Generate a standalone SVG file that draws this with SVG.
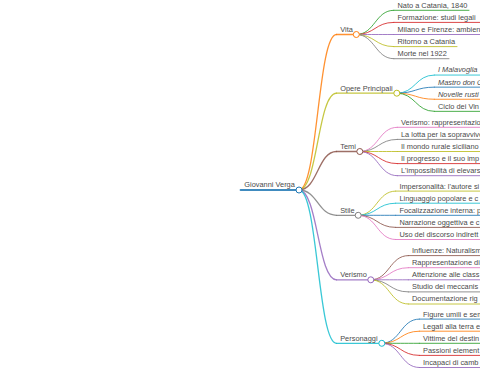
<svg xmlns="http://www.w3.org/2000/svg" width="480" height="379" viewBox="0 0 480 379">
<style>
text{font-family:"Liberation Sans",Arial,sans-serif;font-size:7.4px;fill:#4a4a4a}
.it{font-style:italic}
path,line{fill:none;stroke-linecap:round;stroke-opacity:.85}
.d0{stroke-width:2}
.d1{stroke-width:1.3}
.d2{stroke-width:1}
circle{fill:#fff;stroke-width:1}
.blue{stroke:#1f77b4}.orange{stroke:#ff7f0e}.green{stroke:#2ca02c}.red{stroke:#d62728}.purple{stroke:#9467bd}
.brown{stroke:#8c564b}.pink{stroke:#e377c2}.gray{stroke:#7f7f7f}.olive{stroke:#bcbd22}.cyan{stroke:#17becf}
</style>
<rect width="480" height="379" fill="#fff"/>
<g id="connectors">
<path class="d1 orange" d="M299,190C317.75,190 317.75,34.5 336.5,34.5"/>
<path class="d1 olive" d="M299,190C317.75,190 317.75,93.2 336.5,93.2"/>
<path class="d1 brown" d="M299,190C317.75,190 317.75,151.5 336.5,151.5"/>
<path class="d1 gray" d="M299,190C317.75,190 317.75,215.3 336.5,215.3"/>
<path class="d1 purple" d="M299,190C317.75,190 317.75,279.8 336.5,279.8"/>
<path class="d1 cyan" d="M299,190C317.75,190 317.75,343.3 336.5,343.3"/>
<path class="d2 green" d="M356.3,34.5C375.05,34.5 375.05,10.3 393.8,10.3"/>
<path class="d2 red" d="M356.3,34.5C375.05,34.5 375.05,22.4 393.8,22.4"/>
<path class="d2 purple" d="M356.3,34.5C375.05,34.5 375.05,34.5 393.8,34.5"/>
<path class="d2 olive" d="M356.3,34.5C375.05,34.5 375.05,46.6 393.8,46.6"/>
<path class="d2 gray" d="M356.3,34.5C375.05,34.5 375.05,58.7 393.8,58.7"/>
<path class="d2 cyan" d="M396.8,93.2C415.55,93.2 415.55,75.05 434.3,75.05"/>
<path class="d2 blue" d="M396.8,93.2C415.55,93.2 415.55,87.15 434.3,87.15"/>
<path class="d2 orange" d="M396.8,93.2C415.55,93.2 415.55,99.25 434.3,99.25"/>
<path class="d2 green" d="M396.8,93.2C415.55,93.2 415.55,111.35 434.3,111.35"/>
<path class="d2 pink" d="M359.8,151.5C378.55,151.5 378.55,127.3 397.3,127.3"/>
<path class="d2 gray" d="M359.8,151.5C378.55,151.5 378.55,139.4 397.3,139.4"/>
<path class="d2 olive" d="M359.8,151.5C378.55,151.5 378.55,151.5 397.3,151.5"/>
<path class="d2 red" d="M359.8,151.5C378.55,151.5 378.55,163.6 397.3,163.6"/>
<path class="d2 purple" d="M359.8,151.5C378.55,151.5 378.55,175.7 397.3,175.7"/>
<path class="d2 olive" d="M358.2,215.3C376.95,215.3 376.95,191.1 395.7,191.1"/>
<path class="d2 cyan" d="M358.2,215.3C376.95,215.3 376.95,203.2 395.7,203.2"/>
<path class="d2 blue" d="M358.2,215.3C376.95,215.3 376.95,215.3 395.7,215.3"/>
<path class="d2 brown" d="M358.2,215.3C376.95,215.3 376.95,227.4 395.7,227.4"/>
<path class="d2 pink" d="M358.2,215.3C376.95,215.3 376.95,239.5 395.7,239.5"/>
<path class="d2 brown" d="M370.8,279.8C389.55,279.8 389.55,255.6 408.3,255.6"/>
<path class="d2 pink" d="M370.8,279.8C389.55,279.8 389.55,267.7 408.3,267.7"/>
<path class="d2 purple" d="M370.8,279.8C389.55,279.8 389.55,279.8 408.3,279.8"/>
<path class="d2 gray" d="M370.8,279.8C389.55,279.8 389.55,291.9 408.3,291.9"/>
<path class="d2 olive" d="M370.8,279.8C389.55,279.8 389.55,304 408.3,304"/>
<path class="d2 blue" d="M381.8,343.3C400.55,343.3 400.55,319.1 419.3,319.1"/>
<path class="d2 orange" d="M381.8,343.3C400.55,343.3 400.55,331.2 419.3,331.2"/>
<path class="d2 green" d="M381.8,343.3C400.55,343.3 400.55,343.3 419.3,343.3"/>
<path class="d2 red" d="M381.8,343.3C400.55,343.3 400.55,355.4 419.3,355.4"/>
<path class="d2 purple" d="M381.8,343.3C400.55,343.3 400.55,367.5 419.3,367.5"/>
</g>
<g id="root"><line class="d0 blue" x1="240.6" y1="190" x2="299" y2="190"/><circle class="blue" cx="299" cy="190" r="3"/><text x="244.3" y="187.4">Giovanni Verga</text></g>
<g id="vita"><line class="d1 orange" x1="336.5" y1="34.5" x2="356.3" y2="34.5"/><circle class="orange" cx="356.3" cy="34.5" r="3"/><text x="340.2" y="31.9">Vita</text></g>
<g id="opere"><line class="d1 olive" x1="336.5" y1="93.2" x2="396.8" y2="93.2"/><circle class="olive" cx="396.8" cy="93.2" r="3"/><text x="340.2" y="90.6">Opere Principali</text></g>
<g id="temi"><line class="d1 brown" x1="336.5" y1="151.5" x2="359.8" y2="151.5"/><circle class="brown" cx="359.8" cy="151.5" r="3"/><text x="340.2" y="148.9">Temi</text></g>
<g id="stile"><line class="d1 gray" x1="336.5" y1="215.3" x2="358.2" y2="215.3"/><circle class="gray" cx="358.2" cy="215.3" r="3"/><text x="340.2" y="212.7">Stile</text></g>
<g id="verismo"><line class="d1 purple" x1="336.5" y1="279.8" x2="370.8" y2="279.8"/><circle class="purple" cx="370.8" cy="279.8" r="3"/><text x="340.2" y="277.2">Verismo</text></g>
<g id="personaggi"><line class="d1 cyan" x1="336.5" y1="343.3" x2="381.8" y2="343.3"/><circle class="cyan" cx="381.8" cy="343.3" r="3"/><text x="340.2" y="340.7">Personaggi</text></g>
<g id="vita-1"><line class="d2 green" x1="393.8" y1="10.3" x2="469" y2="10.3"/><text x="397.5" y="7.7">Nato a Catania, 1840</text></g>
<g id="vita-2"><line class="d2 red" x1="393.8" y1="22.4" x2="485" y2="22.4"/><text x="397.5" y="19.8">Formazione: studi legali</text></g>
<g id="vita-3"><line class="d2 purple" x1="393.8" y1="34.5" x2="485" y2="34.5"/><text x="397.5" y="31.9">Milano e Firenze: ambien</text></g>
<g id="vita-4"><line class="d2 olive" x1="393.8" y1="46.6" x2="457" y2="46.6"/><text x="397.5" y="44">Ritorno a Catania</text></g>
<g id="vita-5"><line class="d2 gray" x1="393.8" y1="58.7" x2="449" y2="58.7"/><text x="397.5" y="56.1">Morte nel 1922</text></g>
<g id="opere-1"><line class="d2 cyan" x1="434.3" y1="75.05" x2="485" y2="75.05"/><text class="it" x="438" y="72.45">I Malavoglia</text></g>
<g id="opere-2"><line class="d2 blue" x1="434.3" y1="87.15" x2="485" y2="87.15"/><text class="it" x="438" y="84.55">Mastro don G</text></g>
<g id="opere-3"><line class="d2 orange" x1="434.3" y1="99.25" x2="485" y2="99.25"/><text class="it" x="438" y="96.65">Novelle rusti</text></g>
<g id="opere-4"><line class="d2 green" x1="434.3" y1="111.35" x2="485" y2="111.35"/><text x="438" y="108.75">Ciclo dei Vin</text></g>
<g id="temi-1"><line class="d2 pink" x1="397.3" y1="127.3" x2="485" y2="127.3"/><text x="401" y="124.7">Verismo: rappresentazio</text></g>
<g id="temi-2"><line class="d2 gray" x1="397.3" y1="139.4" x2="485" y2="139.4"/><text x="401" y="136.8">La lotta per la sopravvive</text></g>
<g id="temi-3"><line class="d2 olive" x1="397.3" y1="151.5" x2="485" y2="151.5"/><text x="401" y="148.9">Il mondo rurale siciliano</text></g>
<g id="temi-4"><line class="d2 red" x1="397.3" y1="163.6" x2="485" y2="163.6"/><text x="401" y="161">Il progresso e il suo imp</text></g>
<g id="temi-5"><line class="d2 purple" x1="397.3" y1="175.7" x2="485" y2="175.7"/><text x="401" y="173.1">L'impossibilità di elevars</text></g>
<g id="stile-1"><line class="d2 olive" x1="395.7" y1="191.1" x2="485" y2="191.1"/><text x="399.4" y="188.5">Impersonalità: l'autore si</text></g>
<g id="stile-2"><line class="d2 cyan" x1="395.7" y1="203.2" x2="485" y2="203.2"/><text x="399.4" y="200.6">Linguaggio popolare e c</text></g>
<g id="stile-3"><line class="d2 blue" x1="395.7" y1="215.3" x2="485" y2="215.3"/><text x="399.4" y="212.7">Focalizzazione interna: p</text></g>
<g id="stile-4"><line class="d2 brown" x1="395.7" y1="227.4" x2="485" y2="227.4"/><text x="399.4" y="224.8">Narrazione oggettiva e c</text></g>
<g id="stile-5"><line class="d2 pink" x1="395.7" y1="239.5" x2="485" y2="239.5"/><text x="399.4" y="236.9">Uso del discorso indirett</text></g>
<g id="verismo-1"><line class="d2 brown" x1="408.3" y1="255.6" x2="485" y2="255.6"/><text x="412" y="253">Influenze: Naturalism</text></g>
<g id="verismo-2"><line class="d2 pink" x1="408.3" y1="267.7" x2="485" y2="267.7"/><text x="412" y="265.1">Rappresentazione di</text></g>
<g id="verismo-3"><line class="d2 purple" x1="408.3" y1="279.8" x2="485" y2="279.8"/><text x="412" y="277.2">Attenzione alle class</text></g>
<g id="verismo-4"><line class="d2 gray" x1="408.3" y1="291.9" x2="485" y2="291.9"/><text x="412" y="289.3">Studio dei meccanis</text></g>
<g id="verismo-5"><line class="d2 olive" x1="408.3" y1="304" x2="485" y2="304"/><text x="412" y="301.4">Documentazione rig</text></g>
<g id="personaggi-1"><line class="d2 blue" x1="419.3" y1="319.1" x2="485" y2="319.1"/><text x="423" y="316.5">Figure umili e sem</text></g>
<g id="personaggi-2"><line class="d2 orange" x1="419.3" y1="331.2" x2="485" y2="331.2"/><text x="423" y="328.6">Legati alla terra e</text></g>
<g id="personaggi-3"><line class="d2 green" x1="419.3" y1="343.3" x2="485" y2="343.3"/><text x="423" y="340.7">Vittime del destin</text></g>
<g id="personaggi-4"><line class="d2 red" x1="419.3" y1="355.4" x2="485" y2="355.4"/><text x="423" y="352.8">Passioni element</text></g>
<g id="personaggi-5"><line class="d2 purple" x1="419.3" y1="367.5" x2="485" y2="367.5"/><text x="423" y="364.9">Incapaci di camb</text></g>
</svg>
